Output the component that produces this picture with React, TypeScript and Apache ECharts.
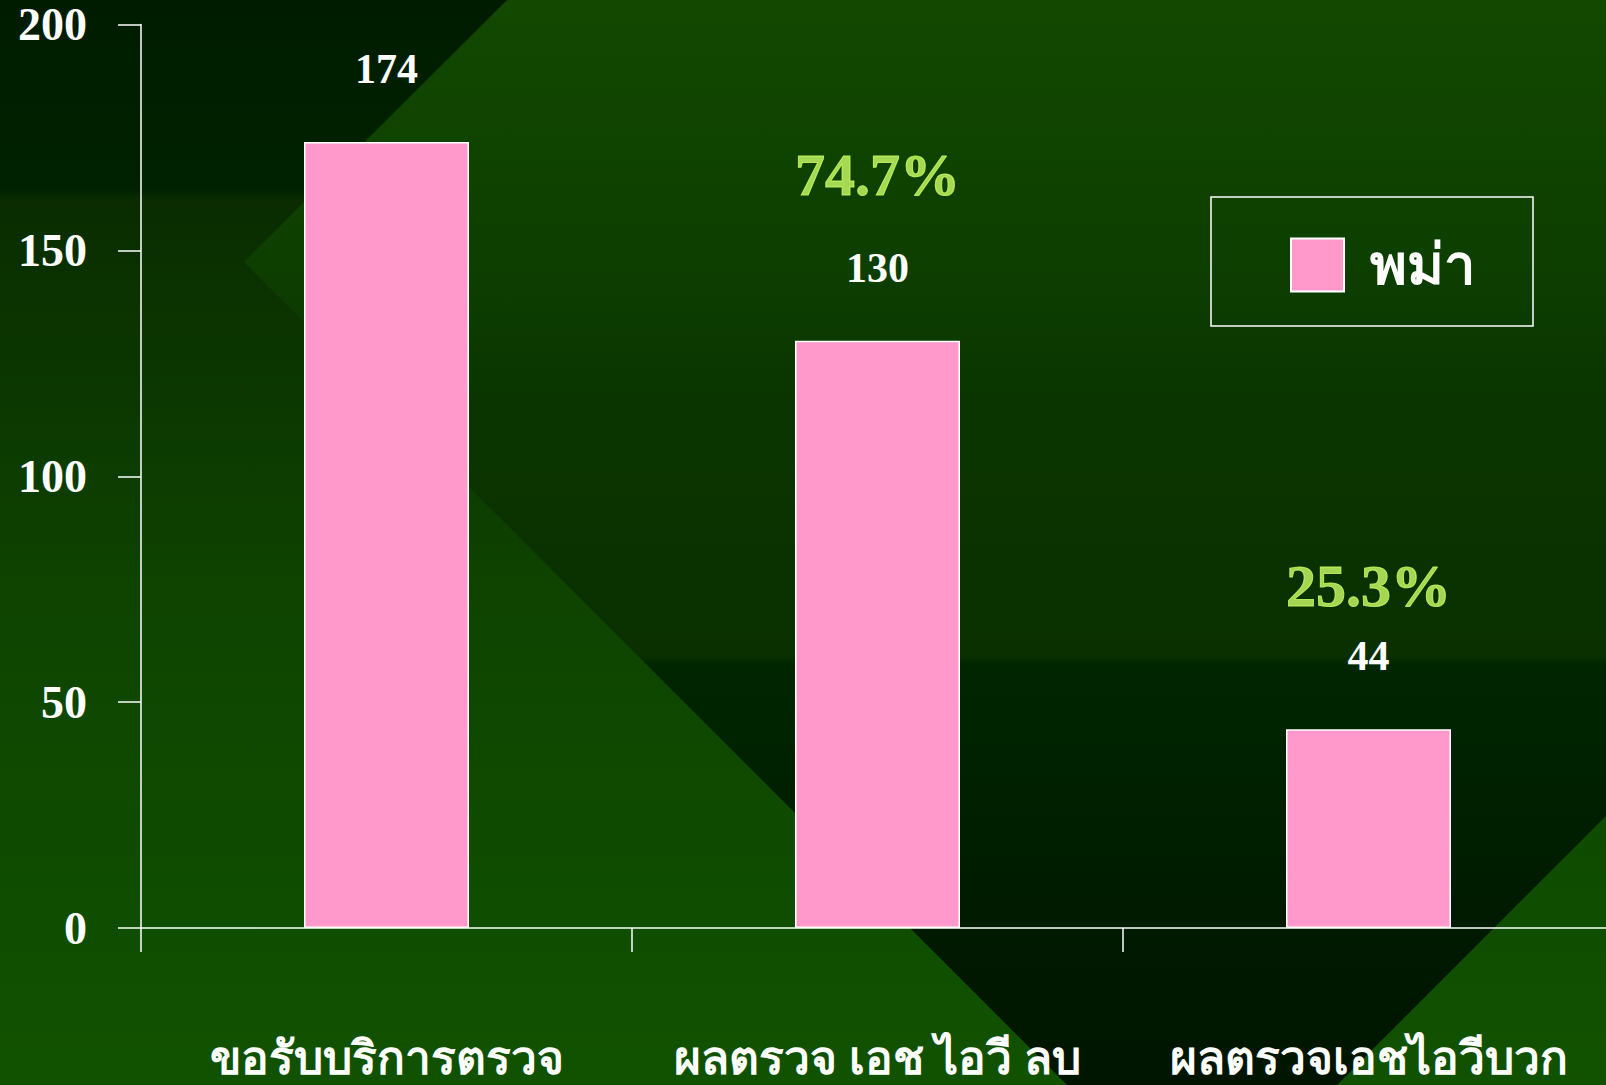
import React, { useEffect, useRef } from "react";
import * as echarts from "echarts";

const categories = ["ขอรับบริการตรวจ", "ผลตรวจ เอช ไอวี ลบ", "ผลตรวจเอชไอวีบวก"];
const values = [174, 130, 44];
const percentLabels = ["", "74.7%", "25.3%"];
const seriesName = "พม่า";
const yTicks = { min: 0, max: 200, interval: 50 };

const W = 1606;
const H = 1085;
const SERIF = "'Liberation Serif', 'Times New Roman', serif";

export default function App() {
  const ref = useRef<HTMLDivElement>(null);

  useEffect(() => {
    if (!ref.current) return;
    const chart = echarts.init(ref.current, undefined, { renderer: "svg" });
    const pctDistances = [0, 135, 113];
    const pctData = values
      .map((v, i) => ({ i, v }))
      .filter((d) => percentLabels[d.i] !== "")
      .map((d) => ({
        value: [d.i, d.v],
        label: { distance: pctDistances[d.i], formatter: percentLabels[d.i] },
      }));

    chart.setOption({
      animation: false,
      backgroundColor: "transparent",
      grid: {
        left: 141,
        right: -8,
        top: 24.6,
        bottom: 157,
        containLabel: false,
        outerBoundsMode: "none",
      },
      legend: {
        data: [seriesName],
        left: 1211,
        top: 197,
        orient: "vertical",
        icon: "rect",
        itemWidth: 53,
        itemHeight: 53,
        padding: [40, 58, 33, 79],
        borderColor: "#ffffff",
        borderWidth: 1.5,
        selectedMode: false,
        textStyle: {
          color: "#ffffff",
          fontSize: 56,
          fontWeight: "bold",
          fontFamily: SERIF,
          padding: [0, 0, 0, 21],
        },
      },
      xAxis: {
        type: "category",
        data: categories,
        axisLine: { show: true, lineStyle: { color: "#ffffff", width: 1.5 } },
        axisTick: { show: true, length: 24, lineStyle: { color: "#ffffff", width: 1.5 } },
        axisLabel: {
          color: "#ffffff",
          fontSize: 46,
          fontWeight: "bold",
          fontFamily: SERIF,
          margin: 107,
          interval: 0,
        },
        splitLine: { show: false },
      },
      yAxis: {
        type: "value",
        min: yTicks.min,
        max: yTicks.max,
        interval: yTicks.interval,
        axisLine: { show: true, lineStyle: { color: "#ffffff", width: 1.5 } },
        axisTick: { show: true, length: 23, lineStyle: { color: "#ffffff", width: 1.5 } },
        axisLabel: {
          color: "#ffffff",
          fontSize: 46,
          fontWeight: "bold",
          fontFamily: SERIF,
          margin: 54,
        },
        splitLine: { show: false },
      },
      series: [
        {
          name: seriesName,
          type: "bar",
          data: values,
          barWidth: "33.6%",
          itemStyle: { color: "#FF99CC", borderColor: "#ffffff", borderWidth: 1.5 },
          label: {
            show: true,
            position: "top",
            distance: 52,
            color: "#ffffff",
            fontSize: 42,
            fontWeight: "bold",
            fontFamily: SERIF,
          },
          z: 3,
        },
        {
          name: "percent",
          type: "scatter",
          data: pctData,
          symbolSize: 1,
          itemStyle: { color: "rgba(0,0,0,0)" },
          label: {
            show: true,
            position: "top",
            color: "#CCFF66",
            textBorderColor: "#CCFF66",
            textBorderWidth: 1,
            fontSize: 60,
            fontWeight: "bold",
            fontFamily: SERIF,
          },
          z: 4,
          silent: true,
        },
      ],
    });
    return () => chart.dispose();
  }, []);

  return (
    <div style={{ position: "fixed", left: 0, top: 0, width: W, height: H, overflow: "hidden" }}>
      <div
        style={{
          position: "absolute",
          inset: 0,
          background:
            "linear-gradient(to bottom, #001c00 0px, #002200 190px, #0a2c00 200px, #0a3000 262px, #0e4400 600px, #0f4e00 930px, #115200 1085px)",
        }}
      />
      <div
        style={{
          position: "absolute",
          inset: 0,
          clipPath:
            "polygon(507px 0px, 1606px 0px, 1606px 816px, 1337px 1085px, 1067px 1085px, 244px 262px)",
          background:
            "linear-gradient(to bottom, #124800 0px, #0d3f00 262px, #0a3500 400px, #0a3000 655px, #002600 665px, #001a00 930px, #001500 1085px)",
        }}
      />
      <div ref={ref} style={{ position: "absolute", left: 0, top: 0, width: W, height: H }} />
    </div>
  );
}
